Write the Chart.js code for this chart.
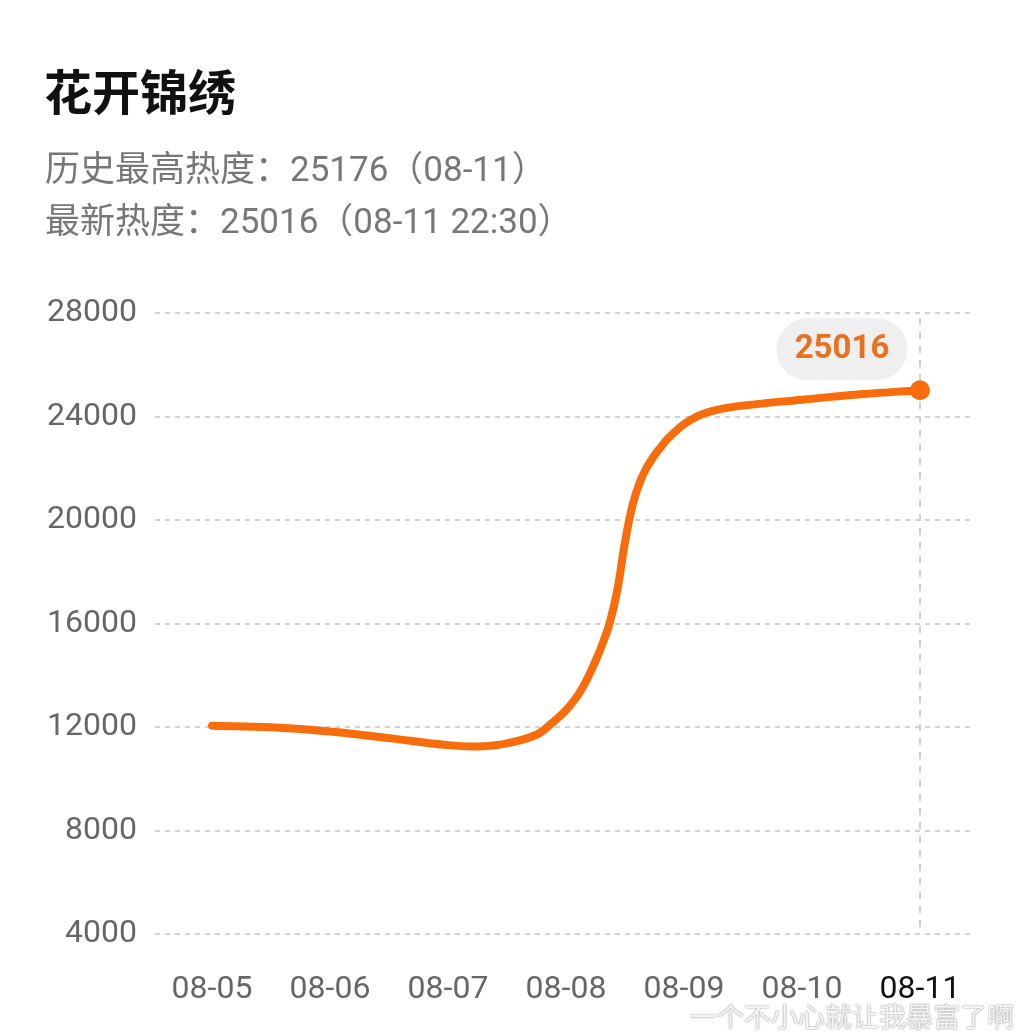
<!DOCTYPE html>
<html>
<head>
<meta charset="utf-8">
<script src="https://cdn.jsdelivr.net/npm/chart.js@4.4.1/dist/chart.umd.min.js"></script>
<style>
  html, body { margin: 0; padding: 0; background: #fff; }
  #wrap { position: relative; width: 1020px; height: 1035px; overflow: hidden; }
  #chart { position: absolute; left: 0; top: 0; }
  .title { position: absolute; left: 44px; top: 54px; line-height: 50px; font: bold 48px "Noto Sans CJK SC", sans-serif; color: #111; }
  .sub { position: absolute; left: 45px; line-height: 40px; font-size: 35px; font-family: Roboto, "Noto Sans CJK SC", sans-serif; color: #777; }
  .mark { position: absolute; left: 690px; top: 996px; line-height: 32px; font: 27px "Noto Sans CJK SC", sans-serif; color: rgba(255,255,255,0.9); text-shadow: 0 0 2px #999, 0 0 1px #999; }
</style>
</head>
<body>
<div id="wrap">
  <canvas id="chart" width="1020" height="1035"></canvas>
  <div class="title">花开锦绣</div>
  <div class="sub" style="top:150px">历史最高热度：25176（08-11）</div>
  <div class="sub" style="top:202px">最新热度：25016（08-11 22:30）</div>
  <div class="mark">一个不小心就让我暴富了啊</div>
</div>
<script>
var dayLabels  = ['08-05', '08-06', '08-07', '08-08', '08-09', '08-10', '08-11']
// x in days since 08-05
var heatDays   = [0, 0.5, 1, 1.5, 2, 2.25, 2.5, 2.75, 2.875, 3, 3.125, 3.25, 3.3125, 3.375, 3.4375, 3.5, 3.5625, 3.625, 3.6875, 3.75, 3.8125, 3.875, 4, 4.125, 4.25, 4.5, 5, 5.5, 6]
var heatValues = [12050, 11990, 11830, 11570, 11300, 11250, 11370, 11700, 12130, 12650, 13400, 14550, 15250, 16100, 17350, 19150, 20550, 21450, 22050, 22500, 22870, 23200, 23700, 24030, 24230, 24420, 24650, 24860, 25016]
var yMin = 4000, yMax = 28000, yStep = 4000

var
    orange   = '#f96c0c'
  , lastIdx  = heatValues.length - 1
  , axisFont = { family: 'Roboto', size: 32 }

// dashed crosshair at the latest point, and the value pill above it
var latestMarker = {
    id : 'latestMarker'
  , beforeDatasetsDraw : function (chart) {
      var
          ctx = chart.ctx
        , pt  = chart.getDatasetMeta(0).data[lastIdx]
      ctx.save()
      ctx.strokeStyle = '#cfcfcf'
      ctx.lineWidth = 2
      ctx.setLineDash([7, 7])
      ctx.beginPath()
      ctx.moveTo(pt.x, chart.chartArea.top + 5)
      ctx.lineTo(pt.x, chart.chartArea.bottom)
      ctx.stroke()
      ctx.restore()
  }
  , afterDatasetsDraw : function (chart) {
      var
          ctx = chart.ctx
        , pt  = chart.getDatasetMeta(0).data[lastIdx]
        , cx  = pt.x - 78
        , cy  = pt.y - 41
        , w   = 131
        , h   = 62
      ctx.save()
      ctx.fillStyle = '#efefef'
      ctx.beginPath()
      ctx.roundRect(cx - w / 2, cy - h / 2, w, h, h / 2)
      ctx.fill()
      ctx.fillStyle = '#e8701f'
      ctx.font = 'bold 33px Roboto'
      ctx.textAlign = 'center'
      ctx.textBaseline = 'middle'
      ctx.fillText(String(heatValues[lastIdx]), cx, cy + 1)
      ctx.restore()
  }
}

new Chart(document.getElementById('chart'), {
    type    : 'line'
  , data    : {
      datasets : [{
          data                 : heatDays.map(function (d, i) { return { x: d, y: heatValues[i] } })
        , borderColor          : orange
        , borderWidth          : 8
        , borderCapStyle       : 'round'
        , borderJoinStyle      : 'round'
        , tension              : 0.4
        , pointRadius          : function (c) { return c.dataIndex === lastIdx ? 10 : 0 }
        , pointBackgroundColor : orange
        , pointBorderWidth     : 0
        , fill                 : false
      }]
    }
  , options : {
      responsive : false
    , animation  : false
    , layout     : { padding: { top: 313, right: 45, bottom: 0, left: 0 } }
    , plugins    : { legend: { display: false }, tooltip: { enabled: false } }
    , scales     : {
        x : {
            type            : 'linear'
          , min             : -0.483
          , max             : 6.466
          , afterBuildTicks : function (s) { s.ticks = dayLabels.map(function (l, i) { return { value: i } }) }
          , afterFit        : function (s) { s.height = 101 }
          , grid            : { display: false }
          , border          : { display: false }
          , ticks           : {
                callback    : function (v) { return dayLabels[v] }
              , color       : function (c) { return c.index === dayLabels.length - 1 ? '#111' : '#666' }
              , font        : axisFont
              , padding     : 29
              , maxRotation : 0
              , autoSkip    : false
            }
        }
      , y : {
            min      : yMin
          , max      : yMax
          , afterFit : function (s) { s.width = 155 }
          , grid     : { color: '#d2d2d2', lineWidth: 2, drawTicks: false }
          , border   : { display: false, dash: [5, 5] }
          , ticks    : {
                stepSize : yStep
              , color    : '#666'
              , font     : axisFont
              , padding  : 18
              , callback : function (v) { return String(v) }
            }
        }
      }
    }
  , plugins : [latestMarker]
})
</script>
</body>
</html>
